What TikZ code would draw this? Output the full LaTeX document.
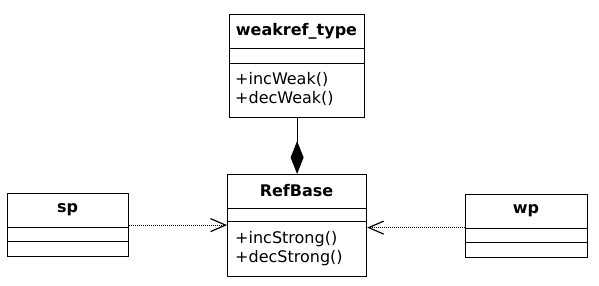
\documentclass[tikz,border=0pt]{standalone}
\usepackage{fontspec}
\setmainfont{DejaVu Sans}
\usetikzlibrary{arrows.meta}
\begin{document}
\begin{tikzpicture}[x=1pt,y=-1pt,
  classbox/.style={draw, line width=1.2pt, anchor=north west, inner sep=0pt},
  sepline/.style={line width=1pt},
  title/.style={font=\fontsize{16}{18}\selectfont\bfseries, inner sep=0pt},
  methods/.style={font=\fontsize{16}{19}\selectfont, align=left, anchor=west, inner sep=0pt},
  dep/.style={line width=1.1pt, dash pattern=on 1pt off 1pt, -{Straight Barb[length=15pt,width=13pt,line width=1.2pt]}}
]
\useasboundingbox (0,0) rectangle (599,285);
% weakref_type
\node[classbox, minimum width=135pt, minimum height=103pt] (wt) at (229,14) {};
\draw[sepline] (229,48) -- (364,48);
\draw[sepline] (229,63) -- (364,63);
\node[title] (wtt) at (296.5,31) {weakref\_type};
\node[methods] (wtm) at (235,89) {+incWeak()\\+decWeak()};
% RefBase
\node[classbox, minimum width=139pt, minimum height=102pt] (rb) at (227,174) {};
\draw[sepline] (227,208) -- (366,208);
\draw[sepline] (227,221) -- (366,221);
\node[title] (rbt) at (296.5,191) {RefBase};
\node[methods] (rbm) at (235,249) {+incStrong()\\+decStrong()};
% sp
\node[classbox, minimum width=121pt, minimum height=63pt] (sp) at (7,193) {};
\draw[sepline] (7,227) -- (128,227);
\draw[sepline] (7,241) -- (128,241);
\node[title] (spt) at (67.5,210) {sp};
% wp
\node[classbox, minimum width=122pt, minimum height=63pt] (wp) at (465,194) {};
\draw[sepline] (465,228) -- (587,228);
\draw[sepline] (465,242) -- (587,242);
\node[title] (wpt) at (526,211) {wp};
% connectors
\draw[line width=1.2pt, {Diamond[length=33pt,width=13pt]}-] (rb.north) -- (wt.south);
\draw[dep] (sp.east) -- (sp.east -| rb.west);
\draw[dep] ([yshift=-1.5pt]wp.west) -- ([yshift=-1.5pt]wp.west -| rb.east);
\end{tikzpicture}
\end{document}
